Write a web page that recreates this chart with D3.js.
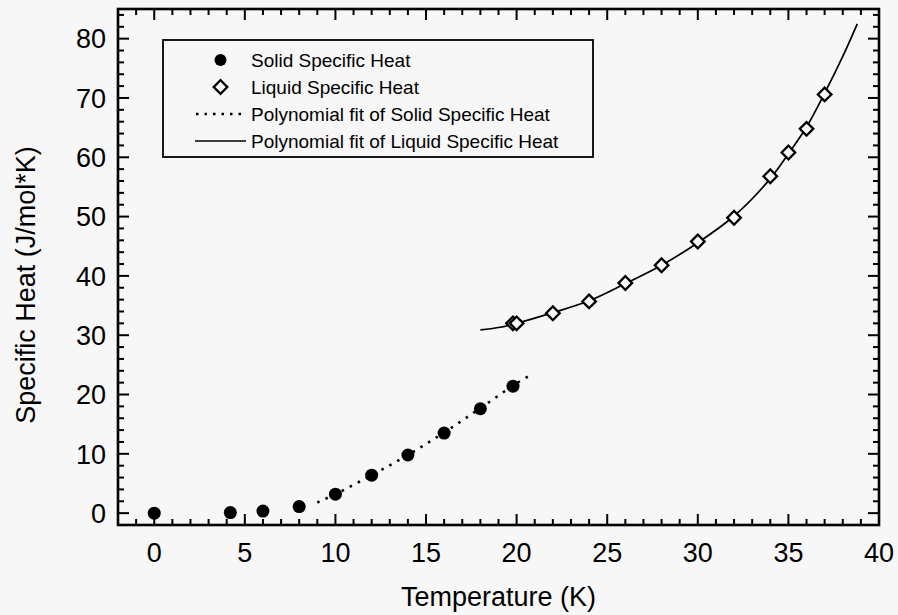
<!DOCTYPE html>
<html>
<head>
<meta charset="utf-8">
<script src="https://cdn.jsdelivr.net/npm/d3@7"></script>
<style>
  body { margin: 0; background: #f7f7f7; }
  svg { display: block; font-family: "Liberation Sans", Arial, Helvetica, sans-serif; }
</style>
</head>
<body>
<div id="chart"></div>
<script>
// measured points
var solidT = [0, 4.2, 6, 8, 10, 12, 14, 16, 18, 19.8];
var solidC = [0, 0.1, 0.35, 1.1, 3.2, 6.4, 9.8, 13.5, 17.6, 21.4];
var liquidT = [19.8, 20, 22, 24, 26, 28, 30, 32, 34, 35, 36, 37];
var liquidC = [32, 32, 33.7, 35.7, 38.8, 41.8, 45.8, 49.8, 56.8, 60.8, 64.8, 70.6];

// fitted curves
var solidFitT = [9, 10, 12, 14, 16, 18, 20, 20.9];
var solidFitC = [1.8, 3.2, 6.4, 9.8, 13.6, 17.7, 21.9, 23.5];
var liquidFitT = [18, 19, 20, 22, 24, 26, 28, 30, 32, 34, 35, 36, 37, 38, 38.8];
var liquidFitC = [30.9, 31.3, 32, 33.8, 35.8, 38.7, 41.8, 45.6, 50.1, 56.4, 60.6, 65.1, 70.8, 77, 82.5];

var xTicks = [0, 5, 10, 15, 20, 25, 30, 35, 40];
var yTicks = [0, 10, 20, 30, 40, 50, 60, 70, 80];
var legendLabels = ['Solid Specific Heat', 'Liquid Specific Heat',
  'Polynomial fit of Solid Specific Heat', 'Polynomial fit of Liquid Specific Heat'];

var width = 898, height = 615;
var margin = {left: 118, right: 19, top: 9, bottom: 90};

var svg = d3.select('#chart').append('svg')
  .attr('width', width).attr('height', height);

var x = d3.scaleLinear().domain([-2, 40]).range([margin.left, width - margin.right]);
var y = d3.scaleLinear().domain([-2, 85]).range([height - margin.bottom, margin.top]);

var x0 = x.range()[0], x1 = x.range()[1], y0 = y.range()[0], y1 = y.range()[1];

// inward ticks on all four sides
var xMinor = d3.range(-1, 40, 1);
var yMinor = d3.range(0, 85, 2);
var ticks = svg.append('g').attr('stroke', '#000').attr('stroke-width', 2);
xMinor.forEach(function(t){
  var len = (t % 5 == 0) ? 11 : 6;
  ticks.append('line').attr('x1', x(t)).attr('x2', x(t)).attr('y1', y0).attr('y2', y0 - len);
  ticks.append('line').attr('x1', x(t)).attr('x2', x(t)).attr('y1', y1).attr('y2', y1 + len);
});
yMinor.forEach(function(t){
  var len = (t % 10 == 0) ? 11 : 6;
  ticks.append('line').attr('y1', y(t)).attr('y2', y(t)).attr('x1', x0).attr('x2', x0 + len);
  ticks.append('line').attr('y1', y(t)).attr('y2', y(t)).attr('x1', x1).attr('x2', x1 - len);
});

svg.append('rect')
  .attr('x', x0).attr('y', y1).attr('width', x1 - x0).attr('height', y0 - y1)
  .attr('fill', 'none').attr('stroke', '#000').attr('stroke-width', 2.6);

// tick labels
svg.append('g').selectAll('text').data(xTicks).enter().append('text')
  .attr('x', function(d){ return x(d); }).attr('y', y0 + 37)
  .attr('text-anchor', 'middle').attr('font-size', 27).text(function(d){ return d; });
svg.append('g').selectAll('text').data(yTicks).enter().append('text')
  .attr('x', x0 - 12).attr('y', function(d){ return y(d); }).attr('dy', '0.36em')
  .attr('text-anchor', 'end').attr('font-size', 27).text(function(d){ return d; });

// axis titles
svg.append('text').attr('x', (x0 + x1) / 2).attr('y', 606)
  .attr('text-anchor', 'middle').attr('font-size', 27).text('Temperature (K)');
svg.append('text').attr('transform', 'translate(35,285) rotate(-90)')
  .attr('text-anchor', 'middle').attr('font-size', 27).text('Specific Heat (J/mol*K)');

// fit curves
var line = d3.line()
  .x(function(d){ return x(d[0]); }).y(function(d){ return y(d[1]); })
  .curve(d3.curveCatmullRom);

svg.append('path').datum(d3.zip(solidFitT, solidFitC))
  .attr('d', line).attr('fill', 'none').attr('stroke', '#000')
  .attr('stroke-width', 2.6).attr('stroke-dasharray', '2.5,6.5');
svg.append('path').datum(d3.zip(liquidFitT, liquidFitC))
  .attr('d', line).attr('fill', 'none').attr('stroke', '#000').attr('stroke-width', 1.7);

// markers
var diamond = d3.symbol().type(d3.symbolSquare).size(92);
svg.append('g').selectAll('circle').data(d3.zip(solidT, solidC)).enter().append('circle')
  .attr('cx', function(d){ return x(d[0]); }).attr('cy', function(d){ return y(d[1]); })
  .attr('r', 6.5).attr('fill', '#000');
svg.append('g').selectAll('path').data(d3.zip(liquidT, liquidC)).enter().append('path')
  .attr('d', diamond)
  .attr('transform', function(d){ return 'translate(' + x(d[0]) + ',' + y(d[1]) + ') rotate(45)'; })
  .attr('fill', '#f7f7f7').attr('stroke', '#000').attr('stroke-width', 2.3);

// legend
var legend = svg.append('g');
legend.append('rect').attr('x', 163).attr('y', 40).attr('width', 430).attr('height', 117)
  .attr('fill', 'none').attr('stroke', '#000').attr('stroke-width', 1.8);
var rowY = [60, 87, 114, 141];
legend.append('circle').attr('cx', 220.5).attr('cy', rowY[0]).attr('r', 6).attr('fill', '#000');
legend.append('path').attr('d', diamond)
  .attr('transform', 'translate(220.5,' + rowY[1] + ') rotate(45)')
  .attr('fill', 'none').attr('stroke', '#000').attr('stroke-width', 2.3);
legend.append('line').attr('x1', 196).attr('x2', 246).attr('y1', rowY[2]).attr('y2', rowY[2])
  .attr('stroke', '#000').attr('stroke-width', 2.4).attr('stroke-dasharray', '2.5,6');
legend.append('line').attr('x1', 195).attr('x2', 246).attr('y1', rowY[3]).attr('y2', rowY[3])
  .attr('stroke', '#000').attr('stroke-width', 1.7);
legend.selectAll('text.lab').data(legendLabels).enter().append('text')
  .attr('x', 251).attr('y', function(d, i){ return rowY[i]; }).attr('dy', '0.36em')
  .attr('font-size', 19).text(function(d){ return d; });
</script>
</body>
</html>
